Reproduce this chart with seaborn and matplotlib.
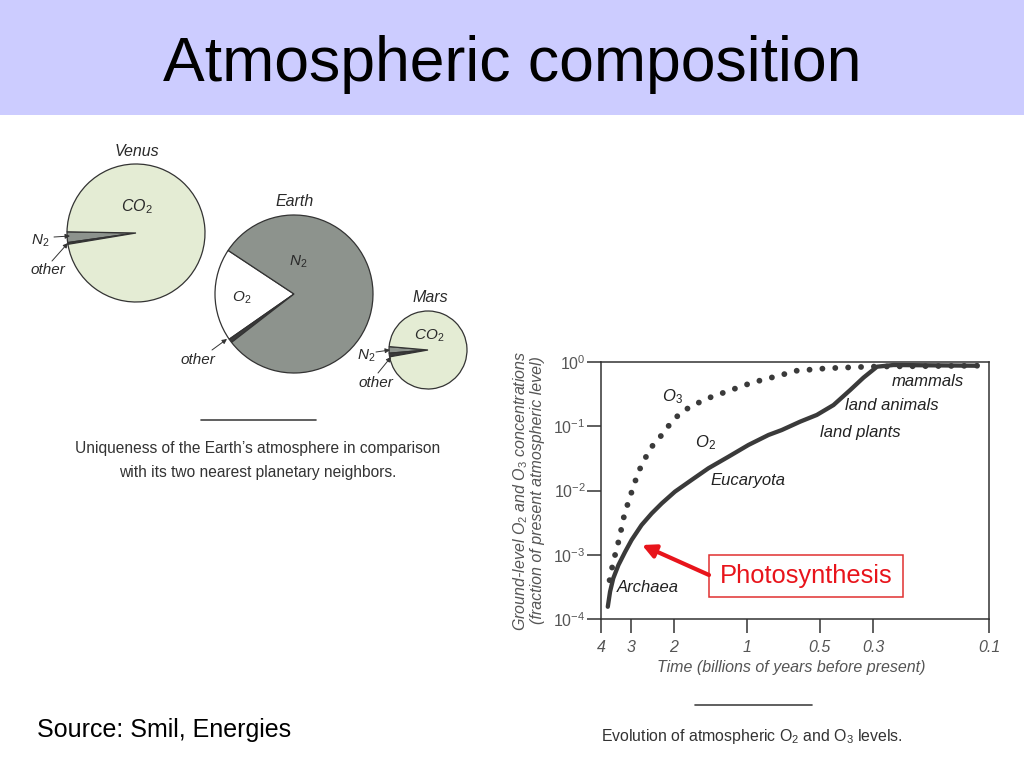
import seaborn as sns
import matplotlib.pyplot as plt
from matplotlib.patches import Rectangle

# Pie shares (percent of atmosphere)
venus_gases = ["N2", "other", "CO2"]
venus_share = [2.5, 0.4, 97.1]
earth_gases = ["O2", "other", "N2"]
earth_share = [19.0, 0.8, 80.2]
mars_gases = ["N2", "other", "CO2"]
mars_share = [2.7, 1.5, 95.8]

# O2 / O3 evolution (billions of years before present, fraction of present level)
o2_time = [3.75, 3.67, 3.56, 3.39, 3.18, 2.99, 2.72, 2.47, 2.245, 1.98, 1.69, 1.44, 1.19,
           0.985, 0.814, 0.717, 0.602, 0.514, 0.4385, 0.374, 0.33, 0.29, 0.248, 0.112]
o2_level = [1.55e-4, 2.66e-4, 4.3e-4, 6.9e-4, 1.11e-3, 1.7e-3, 2.9e-3, 4.4e-3, 6.3e-3, 9.6e-3,
            0.0146, 0.0222, 0.0336, 0.0511, 0.0731, 0.0874, 0.118, 0.150, 0.214, 0.367, 0.57,
            0.845, 0.898, 0.875]
o3_time = [3.73, 3.64, 3.56, 3.44, 3.34, 3.2, 3.08, 2.94, 2.8, 2.63, 2.43, 2.245, 2.04, 1.855,
           1.635, 1.395, 1.19, 1.016, 0.867, 0.717, 0.642, 0.467, 0.34, 0.29, 0.112]
o3_level = [3.2e-4, 5.1e-4, 7.8e-4, 1.26e-3, 2.0e-3, 4.3e-3, 6.7e-3, 0.0115, 0.0196, 0.0317,
            0.0524, 0.0731, 0.118, 0.168, 0.22, 0.288, 0.354, 0.439, 0.525, 0.628, 0.724,
            0.798, 0.836, 0.85, 0.875]

x_ticks = [4, 3, 2, 1, 0.5, 0.3, 0.1]
x_tick_labels = ["4", "3", "2", "1", "0.5", "0.3", "0.1"]
y_ticks = [1e-4, 1e-3, 1e-2, 1e-1, 1e0]
y_tick_labels = ["$10^{-4}$", "$10^{-3}$", "$10^{-2}$", "$10^{-1}$", "$10^{0}$"]

gas_colors = {"CO2": "#e4ecd4", "N2": "#8d938d", "O2": "white", "other": "#3a3a3a"}

sns.set_style("ticks")
plt.rcParams["font.family"] = ["Liberation Sans", "DejaVu Sans"]
plt.rcParams["mathtext.fontset"] = "custom"
plt.rcParams["mathtext.rm"] = "Liberation Sans"
plt.rcParams["mathtext.it"] = "Liberation Sans:italic"

H = 768


def fy(py):
    # slide pixels (y down) -> background axes coords (y up)
    return H - py


fig = plt.figure(figsize=(10.24, 7.68), dpi=100)
bg = fig.add_axes([0, 0, 1, 1])

# Title band
bg.add_patch(Rectangle((0, fy(115)), 1024, 115, color="#ccccff", lw=0))
bg.text(512, fy(64), "Atmospheric composition", ha="center", va="center", fontsize=45, color="black")

# Planet pies
pies = [
    (venus_share, venus_gases, (136, 233), 69, 179),
    (earth_share, earth_gases, (294, 294), 79, 146.5),
    (mars_share, mars_gases, (428, 350), 39, 175),
]
for share, gases, (cx, cy), r, start in pies:
    bg.pie(share, colors=[gas_colors[g] for g in gases], startangle=start,
           center=(cx, fy(cy)), radius=r, frame=True,
           wedgeprops=dict(edgecolor="#333333", linewidth=0.9))

lab = dict(fontstyle="italic", color="#2a2a2a", ha="center", va="center")
bg.text(137, fy(152), "Venus", fontsize=11.5, **lab)
bg.text(137, fy(207), "CO$_2$", fontsize=11.5, **lab)
bg.text(40, fy(241), "N$_2$", fontsize=11, **lab)
bg.text(48, fy(270), "other", fontsize=11, **lab)
bg.text(295, fy(202), "Earth", fontsize=11.5, **lab)
bg.text(298, fy(262), "N$_2$", fontsize=11, **lab)
bg.text(242, fy(298), "O$_2$", fontsize=11, **lab)
bg.text(198, fy(360), "other", fontsize=11, **lab)
bg.text(430, fy(298), "Mars", fontsize=11.5, **lab)
bg.text(429, fy(336), "CO$_2$", fontsize=11, **lab)
bg.text(366, fy(356), "N$_2$", fontsize=11, **lab)
bg.text(376, fy(383), "other", fontsize=11, **lab)

small_arrow = dict(arrowstyle="-|>", lw=0.7, color="#333333", mutation_scale=7, shrinkA=0, shrinkB=0)
for start_xy, end_xy in [((54, 237), (70, 236)), ((52, 261), (68, 243)),
                         ((212, 350), (227, 339)), ((376, 352), (390, 350)),
                         ((378, 373), (391, 357))]:
    bg.annotate("", xy=(end_xy[0], fy(end_xy[1])), xytext=(start_xy[0], fy(start_xy[1])),
                arrowprops=small_arrow)

bg.plot([201, 316], [fy(420), fy(420)], color="#444444", lw=1.2)
bg.text(258, fy(449), "Uniqueness of the Earth\u2019s atmosphere in comparison",
        ha="center", va="center", fontsize=11.2, color="#333333")
bg.text(258, fy(472), "with its two nearest planetary neighbors.",
        ha="center", va="center", fontsize=11.2, color="#333333")

# Chart annotations
note = dict(fontstyle="italic", color="#222222", ha="center", va="center", fontsize=12)
bg.text(672, fy(397), "O$_3$", **note)
bg.text(706, fy(443), "O$_2$", **note)
bg.text(928, fy(382), "mammals", **note)
bg.text(892, fy(405), "land animals", **note)
bg.text(860, fy(432), "land plants", **note)
bg.text(748, fy(481), "Eucaryota", **note)
bg.text(648, fy(587), "Archaea", **note)

bg.add_patch(Rectangle((709, fy(597)), 194, 42, fill=False, ec="#e03030", lw=1.1))
bg.text(806, fy(576), "Photosynthesis", ha="center", va="center", fontsize=18.4, color="#e8141b")
bg.annotate("", xy=(642, fy(545)), xytext=(709, fy(575)),
            arrowprops=dict(arrowstyle="-|>", lw=3, color="#e8141b", mutation_scale=20,
                            shrinkA=0, shrinkB=0))

bg.plot([695, 812], [fy(705), fy(705)], color="#444444", lw=1.2)
bg.text(752, fy(737), "Evolution of atmospheric O$_2$ and O$_3$ levels.",
        ha="center", va="center", fontsize=11.4, color="#333333")

bg.text(37, fy(730), "Source: Smil, Energies", ha="left", va="center", fontsize=18, color="black")

bg.set_xlim(0, 1024)
bg.set_ylim(0, H)
bg.axis("off")

# O2 / O3 line chart
ax = fig.add_axes([601 / 1024, 1 - 619 / H, 388 / 1024, 257 / H])
ax.patch.set_alpha(0)
ax.set_xscale("log")
ax.set_yscale("log")
sns.lineplot(x=o2_time, y=o2_level, ax=ax, color="#3a3a3a", lw=3.1)
sns.lineplot(x=o3_time, y=o3_level, ax=ax, color="#3a3a3a", lw=4.2)
dots = ax.lines[-1]
dots.set_linestyle((0, (0.01, 2.2)))
dots.set_dash_capstyle("round")

ax.set_xlim(4, 0.1)
ax.set_ylim(1e-4, 1)
ax.set_xticks(x_ticks, x_tick_labels)
ax.set_yticks(y_ticks, y_tick_labels)
ax.minorticks_off()
ax.tick_params(direction="out", length=10, width=1.1, color="#333333",
               labelcolor="#555555", labelsize=11.5)
ax.tick_params(axis="x", pad=5)
ax.tick_params(axis="y", pad=1)
for t in ax.get_xticklabels():
    t.set_fontstyle("italic")
for side in ["left", "right", "top", "bottom"]:
    ax.spines[side].set_color("#333333")
    ax.spines[side].set_linewidth(1.1)

ax.set_xlabel("Time (billions of years before present)", fontstyle="italic",
              color="#555555", fontsize=11.5)
ax.xaxis.set_label_coords(0.49, -0.16)
ax.set_ylabel("Ground-level O$_2$ and O$_3$ concentrations\n(fraction of present atmospheric level)",
              fontstyle="italic", color="#555555", fontsize=11.5, linespacing=1.0)
ax.yaxis.set_label_coords(-0.145, 0.5)

fig.savefig("out.png", dpi=100)
